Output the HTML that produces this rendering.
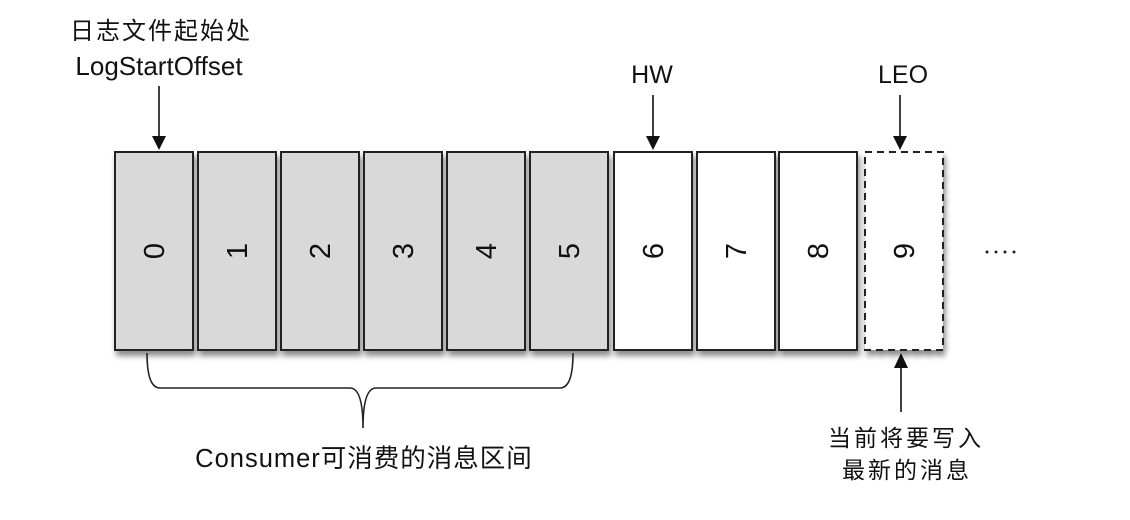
<!DOCTYPE html>
<html><head><meta charset="utf-8"><style>
body{margin:0;background:#fff;}
</style></head><body>
<svg width="1130" height="520" viewBox="0 0 1130 520" xmlns="http://www.w3.org/2000/svg" style="display:block">
<defs>
<filter id="sh" x="-20%" y="-20%" width="140%" height="140%"><feGaussianBlur in="SourceAlpha" stdDeviation="3"/><feOffset dx="2" dy="5"/><feComponentTransfer><feFuncA type="linear" slope="0.45"/></feComponentTransfer><feMerge><feMergeNode/><feMergeNode in="SourceGraphic"/></feMerge></filter>
</defs>
<g font-family="Liberation Sans, Noto Sans CJK SC, sans-serif" fill="#111">
<text x="161" y="39" font-size="24" text-anchor="middle" letter-spacing="2">日志文件起始处</text>
<text x="159" y="75" font-size="26" text-anchor="middle">LogStartOffset</text>
<text x="652" y="83" font-size="25" text-anchor="middle">HW</text>
<text x="903" y="83" font-size="25" text-anchor="middle">LEO</text>
<text x="364" y="467" font-size="25.5" text-anchor="middle" letter-spacing="1">Consumer可消费的消息区间</text>
<text x="906" y="446" font-size="23" text-anchor="middle" letter-spacing="3">当前将要写入</text>
<text x="907" y="478" font-size="23" text-anchor="middle" letter-spacing="3">最新的消息</text>
</g>
<g stroke="#111" stroke-width="1.6" fill="#111">
<line x1="159" y1="86" x2="159" y2="138"/><polygon points="152,136 166,136 159,150" stroke="none"/>
<line x1="653" y1="95" x2="653" y2="138"/><polygon points="646,136 660,136 653,150" stroke="none"/>
<line x1="900" y1="95" x2="900" y2="138"/><polygon points="893,136 907,136 900,150" stroke="none"/>
<line x1="901" y1="366" x2="901" y2="412"/><polygon points="894,368 908,368 901,353" stroke="none"/>
</g>
<g filter="url(#sh)" stroke="#222" stroke-width="2">
<rect x="115" y="152" width="78" height="198" fill="#d9d9d9"/>
<rect x="198" y="152" width="78" height="198" fill="#d9d9d9"/>
<rect x="281" y="152" width="78" height="198" fill="#d9d9d9"/>
<rect x="364" y="152" width="78" height="198" fill="#d9d9d9"/>
<rect x="447" y="152" width="78" height="198" fill="#d9d9d9"/>
<rect x="530" y="152" width="78" height="198" fill="#d9d9d9"/>
<rect x="614" y="152" width="78" height="198" fill="#fff"/>
<rect x="697" y="152" width="78" height="198" fill="#fff"/>
<rect x="779" y="152" width="78" height="198" fill="#fff"/>
<rect x="865" y="152" width="78" height="198" fill="#fff" stroke-dasharray="7,5"/>
</g>
<g font-family="Liberation Sans, sans-serif" font-size="29" fill="#111" text-anchor="middle">
<text transform="translate(154,251) rotate(-90)" y="10">0</text>
<text transform="translate(237,251) rotate(-90)" y="10">1</text>
<text transform="translate(320,251) rotate(-90)" y="10">2</text>
<text transform="translate(403,251) rotate(-90)" y="10">3</text>
<text transform="translate(486,251) rotate(-90)" y="10">4</text>
<text transform="translate(569,251) rotate(-90)" y="10">5</text>
<text transform="translate(653,251) rotate(-90)" y="10">6</text>
<text transform="translate(736,251) rotate(-90)" y="10">7</text>
<text transform="translate(818,251) rotate(-90)" y="10">8</text>
<text transform="translate(904,251) rotate(-90)" y="10">9</text>
</g>
<g fill="#222"><circle cx="987" cy="252" r="1.5"/><circle cx="996" cy="252" r="1.5"/><circle cx="1005" cy="252" r="1.5"/><circle cx="1014" cy="252" r="1.5"/></g>
<path d="M147,353 Q147,388 160,388 L350,388 Q363,388 363,428 Q363,388 376,388 L560,388 Q573,388 573,353" fill="none" stroke="#222" stroke-width="1.6"/>
</svg>
</body></html>
